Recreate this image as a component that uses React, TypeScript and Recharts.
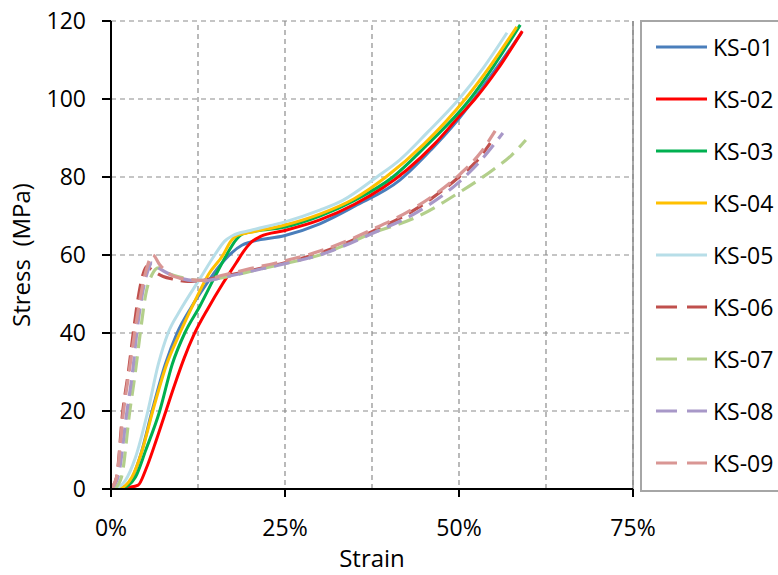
import { LineChart, Line, XAxis, YAxis, CartesianGrid, ReferenceLine, Label } from "recharts";

// strain in %, stress in MPa
const ks01Strain = [1.2, 2.8, 4.3, 5.9, 7.8, 9.5, 11.5, 13.5, 15.5, 17.3, 18.8, 20, 25, 30, 35, 41.5, 46, 50, 54, 59];
const ks01Stress = [0, 2, 9, 20, 32, 40, 46.5, 52, 57, 60.5, 62.5, 63.3, 65, 68, 72.5, 79.2, 87, 95, 104.5, 117];

const ks02Strain = [1, 2.5, 3.9, 5, 6.5, 7.8, 9.2, 10.5, 11.9, 14, 16, 18, 19, 20, 21.5, 25, 30, 35, 42.5, 46.5, 50, 52.3, 55.5, 59.1];
const ks02Stress = [0, 0.4, 1, 5, 12.5, 19.5, 27, 33.5, 39.5, 46.5, 52.5, 58, 60.8, 63, 64.8, 66.3, 69, 73, 81.8, 88.5, 95.5, 100, 107.5, 117.4];

const ks03Strain = [1.5, 3.5, 5, 7, 8.8, 10.6, 12.8, 14.8, 16.6, 18, 19, 21, 25, 30, 35, 40.5, 45, 51.6, 55, 58.8];
const ks03Stress = [0, 3, 10, 20, 32, 40, 47, 54, 60, 64, 65.5, 66.2, 67.2, 70, 74, 80, 87.5, 100, 108.5, 119];

const ks04Strain = [1.2, 3, 4.5, 6, 8, 9.9, 12, 14, 16.1, 17.2, 18.1, 20, 25, 30, 35, 39.5, 45, 50.9, 54.5, 58.3];
const ks04Stress = [0, 3, 10, 20, 32, 40, 48, 55, 60, 63.5, 65, 65.8, 67.7, 70.5, 74.5, 80, 88.5, 100, 108.5, 118.5];

const ks05Strain = [0.5, 2, 3.5, 5.3, 6.8, 8.2, 10, 12.8, 14.9, 16.3, 17.5, 20, 25, 30, 33.3, 38.2, 41.5, 45.5, 50, 53.5, 56.9];
const ks05Stress = [0, 2, 8, 20, 32, 40, 46, 54, 60, 63.5, 65, 66.3, 68.5, 71.5, 74, 80, 84.4, 91.5, 100, 108, 117];

const ks06Strain = [0, 0.8, 1.7, 2.5, 3.2, 4, 4.6, 5.1, 6, 7.5, 9, 11, 13, 16, 20, 25, 30, 37.5, 44, 50, 52.5, 54.5];
const ks06Stress = [0, 3, 20, 30, 40, 50, 55, 57, 56, 54.5, 53.8, 53.2, 53.5, 54.5, 56, 58, 60.5, 66, 72, 80, 84, 88.7];

const ks07Strain = [0.5, 1.5, 2.7, 3.5, 4.2, 5, 5.9, 6.8, 8, 10, 13, 16, 20, 25, 30, 37.5, 44, 50, 55, 57.5, 59.6];
const ks07Stress = [0, 3, 20, 30, 40, 50, 55, 56.7, 55.5, 54.3, 53.5, 54.2, 55.8, 57.8, 60, 65.6, 69.8, 76, 82, 85.5, 89.5];

const ks08Strain = [0, 1, 2.3, 3.1, 3.7, 4.5, 5.3, 5.9, 7, 8.5, 10, 13, 16, 20, 25, 30, 37.5, 44, 50, 53, 56.3];
const ks08Stress = [0, 3, 20, 30, 40, 50, 56, 58, 56.5, 55, 54, 53.3, 54.2, 55.8, 57.8, 60, 65.5, 71, 78.7, 84, 91.3];

const ks09Strain = [0, 0.8, 1.8, 2.6, 3.4, 4.3, 5.2, 6, 7, 8.5, 10, 13, 16, 20, 25, 30, 37.5, 44, 50, 53, 55.2];
const ks09Stress = [0, 3, 20, 30, 40, 50, 57, 60, 57.5, 55, 54, 53.5, 54.8, 56.5, 58.5, 61, 66.5, 72.5, 80.5, 86, 91.8];

const xTicks = [0, 25, 50, 75];
const xMinorGrid = [12.5, 37.5, 62.5];
const yTicks = [0, 20, 40, 60, 80, 100, 120];

const toPoints = (xs: number[], ys: number[]) => xs.map((x, i) => ({ x, y: ys[i] }));

const series = [
  { name: "KS-01", color: "#4A7EBB", dashed: false, data: toPoints(ks01Strain, ks01Stress) },
  { name: "KS-02", color: "#FF0000", dashed: false, data: toPoints(ks02Strain, ks02Stress) },
  { name: "KS-03", color: "#00B050", dashed: false, data: toPoints(ks03Strain, ks03Stress) },
  { name: "KS-04", color: "#FFC000", dashed: false, data: toPoints(ks04Strain, ks04Stress) },
  { name: "KS-05", color: "#B7DEE8", dashed: false, data: toPoints(ks05Strain, ks05Stress) },
  { name: "KS-06", color: "#C0504D", dashed: true, data: toPoints(ks06Strain, ks06Stress) },
  { name: "KS-07", color: "#B3CF8B", dashed: true, data: toPoints(ks07Strain, ks07Stress) },
  { name: "KS-08", color: "#A898C8", dashed: true, data: toPoints(ks08Strain, ks08Stress) },
  { name: "KS-09", color: "#D99694", dashed: true, data: toPoints(ks09Strain, ks09Stress) },
];

const FONT = "'Open Sans', sans-serif";
const DASH = "16 8";

const LegendBox = () => (
  <div
    style={{
      position: "absolute",
      left: 640,
      top: 20,
      width: 150,
      height: 468,
      border: "2px solid #a6a6a6",
      background: "#fff",
      fontFamily: FONT,
    }}
  >
    {series.map((s, i) => (
      <div
        key={s.name}
        style={{ position: "absolute", left: 13, top: 25 + i * 52 - 16, height: 32, display: "flex", alignItems: "center" }}
      >
        <svg width={54} height={8}>
          <line x1={1} y1={4} x2={52} y2={4} stroke={s.color} strokeWidth={3} strokeDasharray={s.dashed ? "21 10" : undefined} />
        </svg>
        <span style={{ fontSize: 23, color: "#000", marginLeft: 4 }}>{s.name}</span>
      </div>
    ))}
  </div>
);

export default function App() {
  return (
    <div style={{ position: "absolute", left: 0, top: 0, width: 778, height: 575, background: "#fff", overflow: "hidden" }}>
      <LineChart width={778} height={575} margin={{ top: 21, right: 145, left: 51, bottom: 36 }}>
        <CartesianGrid stroke="#8c8c8c" strokeDasharray="5 4" strokeWidth={1.2} />
        {xMinorGrid.map((v) => (
          <ReferenceLine key={v} x={v} stroke="#8c8c8c" strokeDasharray="5 4" strokeWidth={1.2} />
        ))}
        <ReferenceLine x={75} stroke="#8c8c8c" strokeWidth={1.5} />
        <XAxis
          type="number"
          dataKey="x"
          domain={[0, 75]}
          ticks={xTicks}
          tickFormatter={(v) => `${v}%`}
          allowDataOverflow
          height={50}
          stroke="#000"
          strokeWidth={2}
          tickSize={8}
          tickMargin={23}
          tick={{ fill: "#000", fontSize: 23, fontFamily: FONT }}
        >
          <Label value="Strain" position="insideBottom" offset={-28} style={{ fill: "#000", fontSize: 24, fontFamily: FONT }} />
        </XAxis>
        <YAxis
          type="number"
          dataKey="y"
          domain={[0, 120]}
          ticks={yTicks}
          allowDataOverflow
          width={60}
          stroke="#000"
          strokeWidth={2}
          tickSize={9}
          tickMargin={16}
          tick={{ fill: "#000", fontSize: 23, fontFamily: FONT }}
        >
          <Label
            value={"Stress\u00A0\u00A0(MPa)"}
            angle={-90}
            position="insideLeft"
            offset={-30}
            style={{ fill: "#000", fontSize: 24, fontFamily: FONT, textAnchor: "middle" }}
          />
        </YAxis>
        {series.map((s) => (
          <Line
            key={s.name}
            data={s.data}
            dataKey="y"
            name={s.name}
            type="monotone"
            stroke={s.color}
            strokeWidth={s.dashed ? 3.2 : 3}
            strokeDasharray={s.dashed ? DASH : undefined}
            dot={false}
            isAnimationActive={false}
          />
        ))}
      </LineChart>
      <LegendBox />
    </div>
  );
}
